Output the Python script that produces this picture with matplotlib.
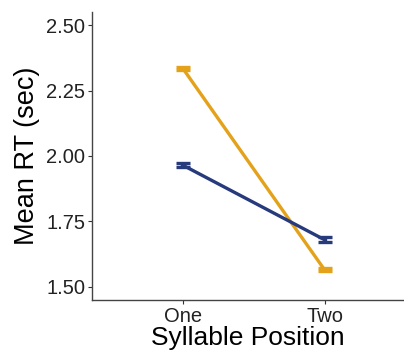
import matplotlib
matplotlib.use("Agg")
import matplotlib.pyplot as plt

categories = ["One", "Two"]
series_orange = [2.335, 1.565]
err_orange = [0.006, 0.006]
series_blue = [1.965, 1.680]
err_blue = [0.007, 0.010]
yticks = [1.50, 1.75, 2.00, 2.25, 2.50]

plt.rcParams['font.family'] = ['Liberation Sans', 'DejaVu Sans']

fig = plt.figure(figsize=(4.04, 3.55), dpi=100)
ax = fig.add_axes([92/404, 55/355, 1 - 92/404, (300-12)/355])

x = [1, 2]
for vals, errs, col in [(series_orange, err_orange, "#E3A21A"), (series_blue, err_blue, "#263A7C")]:
    ax.errorbar(x, vals, yerr=errs, color=col, lw=2.4, capsize=5, capthick=2.4, elinewidth=2.4)

ax.set_xlim(1 - 0.64, 2 + 0.56)
ax.set_ylim(1.45, 2.55)
ax.set_xticks(x)
ax.set_xticklabels(categories)
ax.set_yticks(yticks)
ax.set_yticklabels([f"{v:.2f}" for v in yticks])
ax.tick_params(labelsize=14.5, colors="#333333", labelcolor="#222222", length=3, width=0.8, pad=2)
for s in ["top", "right"]:
    ax.spines[s].set_visible(False)
for s in ["left", "bottom"]:
    ax.spines[s].set_color("#444444")
    ax.spines[s].set_linewidth(1.0)
ax.set_xlabel("Syllable Position", fontsize=19, labelpad=0)
ax.set_ylabel("Mean RT (sec)", fontsize=19.5, labelpad=4)

fig.savefig("out.png", dpi=100)
